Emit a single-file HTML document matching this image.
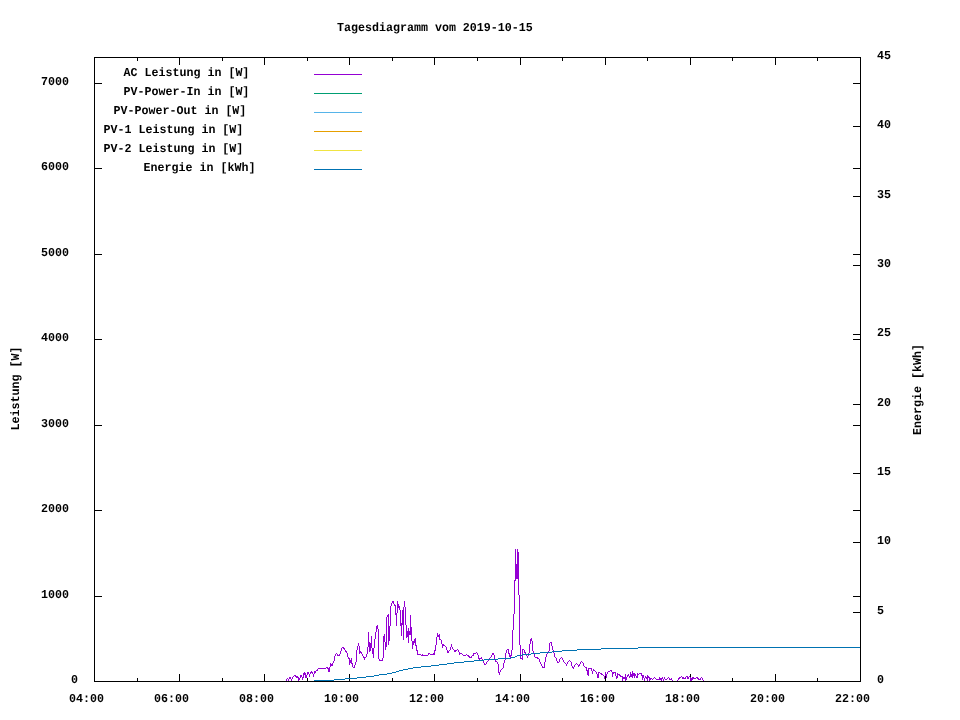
<!DOCTYPE html>
<html lang="de"><head><meta charset="utf-8"><title>Tagesdiagramm vom 2019-10-15</title>
<style>
html,body{margin:0;padding:0;background:#fff;}
body{width:960px;height:720px;overflow:hidden;}
svg{display:block;}
</style></head><body>
<svg width="960" height="720" viewBox="0 0 960 720">
<rect width="960" height="720" fill="#fff"/>
<g stroke="#000" stroke-width="1" fill="none" shape-rendering="crispEdges">
<path d="M137.5 682 v-4 M137.5 57 v4"/>
<path d="M179.5 682 v-8 M179.5 57 v8"/>
<path d="M222.5 682 v-4 M222.5 57 v4"/>
<path d="M264.5 682 v-8 M264.5 57 v8"/>
<path d="M307.5 682 v-4 M307.5 57 v4"/>
<path d="M349.5 682 v-8 M349.5 57 v8"/>
<path d="M392.5 682 v-4 M392.5 57 v4"/>
<path d="M434.5 682 v-8 M434.5 57 v8"/>
<path d="M477.5 682 v-4 M477.5 57 v4"/>
<path d="M520.5 682 v-8 M520.5 57 v8"/>
<path d="M562.5 682 v-4 M562.5 57 v4"/>
<path d="M605.5 682 v-8 M605.5 57 v8"/>
<path d="M647.5 682 v-4 M647.5 57 v4"/>
<path d="M690.5 682 v-8 M690.5 57 v8"/>
<path d="M732.5 682 v-4 M732.5 57 v4"/>
<path d="M775.5 682 v-8 M775.5 57 v8"/>
<path d="M817.5 682 v-4 M817.5 57 v4"/>
<path d="M94 596.5 h8 M861 596.5 h-8"/>
<path d="M94 510.5 h8 M861 510.5 h-8"/>
<path d="M94 425.5 h8 M861 425.5 h-8"/>
<path d="M94 339.5 h8 M861 339.5 h-8"/>
<path d="M94 254.5 h8 M861 254.5 h-8"/>
<path d="M94 168.5 h8 M861 168.5 h-8"/>
<path d="M94 83.5 h8 M861 83.5 h-8"/>
<path d="M861 612.5 h-8"/>
<path d="M861 542.5 h-8"/>
<path d="M861 473.5 h-8"/>
<path d="M861 404.5 h-8"/>
<path d="M861 334.5 h-8"/>
<path d="M861 265.5 h-8"/>
<path d="M861 196.5 h-8"/>
<path d="M861 126.5 h-8"/>
</g>
<g stroke-width="1" fill="none" shape-rendering="crispEdges">
<path stroke="#9400d3" d="M314 74.5 H362"/>
<path stroke="#009e73" d="M314 93.5 H362"/>
<path stroke="#56b4e9" d="M314 112.5 H362"/>
<path stroke="#e69f00" d="M314 131.5 H362"/>
<path stroke="#f0e442" d="M314 150.5 H362"/>
<path stroke="#0072b2" d="M314 169.5 H362"/>
</g>
<g stroke-width="1" fill="none" shape-rendering="crispEdges">
<path stroke="#9400d3" d="M286.5 679V681M287.5 678V679M288.5 679V681M289.5 677V679M290.5 677V679M291.5 679V681M292.5 677V679M293.5 676V677M294.5 675V676M295.5 675V677M296.5 676V678M297.5 676V678M298.5 677V681M299.5 678V680M300.5 675V678M301.5 675V677M302.5 677V680M303.5 673V678M304.5 672V675M305.5 673V678M306.5 675V678M307.5 672V675M308.5 672V674M309.5 674V677M310.5 672V674M311.5 671V673M312.5 672V674M313.5 674V677M314.5 671V674M315.5 671V673M316.5 670V671M317.5 669V671M318.5 668V669M319.5 668V669M320.5 668V669M321.5 668V669M322.5 668V669M323.5 668V669M324.5 668V669M325.5 668V669M326.5 667V668M327.5 667V669M328.5 668V672M329.5 667V672M330.5 663V667M331.5 664V666M332.5 663V666M333.5 661V663M334.5 656V661M335.5 654V656M336.5 653V654M337.5 654V656M338.5 655V656M339.5 654V656M340.5 651V654M341.5 648V651M342.5 647V648M343.5 647V649M344.5 648V650M345.5 650V652M346.5 651V653M347.5 653V657M348.5 657V659M349.5 658V665M350.5 660V663M351.5 658V664M352.5 663V667M353.5 667V668M354.5 665V668M355.5 662V665M356.5 650V662M357.5 646V650M358.5 643V646M359.5 646V654M360.5 651V653M361.5 652V654M362.5 654V656M363.5 656V658M364.5 657V660M365.5 657V658M366.5 654V657M367.5 647V654M368.5 632V647M369.5 642V652M370.5 643V651M371.5 636V648M372.5 648V654M373.5 648V658M374.5 639V648M375.5 632V639M376.5 626V632M377.5 625V629M378.5 629V659M379.5 659V661M380.5 660V661M381.5 660V661M382.5 658V661M383.5 636V658M384.5 634V642M385.5 642V650M386.5 617V647M387.5 615V617M388.5 614V645M389.5 626V641M390.5 606V626M391.5 603V606M392.5 601V603M393.5 601V604M394.5 604V606M395.5 605V615M396.5 613V626M397.5 601V613M398.5 604V608M399.5 606V610M400.5 610V626M401.5 623V636M402.5 610V625M403.5 607V640M404.5 601V607M405.5 607V625M406.5 625V638M407.5 631V637M408.5 628V643M409.5 631V635M410.5 615V635M411.5 627V641M412.5 641V649M413.5 641V645M414.5 639V643M415.5 638V646M416.5 645V651M417.5 650V655M418.5 654V655M419.5 654V655M420.5 654V655M421.5 655V656M422.5 654V656M423.5 655V656M424.5 655V656M425.5 655V656M426.5 655V656M427.5 655V656M428.5 653V655M429.5 653V654M430.5 654V655M431.5 654V655M432.5 654V655M433.5 653V655M434.5 650V655M435.5 645V651M436.5 637V645M437.5 633V637M438.5 635V637M439.5 634V640M440.5 639V640M441.5 640V644M442.5 644V648M443.5 644V646M444.5 645V646M445.5 646V647M446.5 647V650M447.5 650V653M448.5 651V653M449.5 650V651M450.5 647V650M451.5 644V647M452.5 647V649M453.5 649V650M454.5 650V652M455.5 650V652M456.5 650V651M457.5 649V650M458.5 650V652M459.5 652V655M460.5 653V654M461.5 653V654M462.5 654V655M463.5 655V656M464.5 655V656M465.5 655V656M466.5 654V655M467.5 655V656M468.5 655V657M469.5 656V658M470.5 657V658M471.5 656V658M472.5 655V656M473.5 653V656M474.5 653V654M475.5 653V654M476.5 652V653M477.5 653V655M478.5 655V659M479.5 658V660M480.5 658V659M481.5 657V659M482.5 659V661M483.5 660V663M484.5 663V665M485.5 664V665M486.5 662V664M487.5 661V662M488.5 660V661M489.5 658V660M490.5 657V658M491.5 655V657M492.5 653V655M493.5 653V655M494.5 655V659M495.5 659V662M496.5 661V662M497.5 662V664M498.5 664V673M499.5 672V675M500.5 670V672M501.5 669V670M502.5 668V669M503.5 663V668M504.5 660V663M505.5 653V660M506.5 650V653M507.5 649V650M508.5 649V654M509.5 653V657M510.5 655V658M511.5 650V656M512.5 630V650M513.5 614V630M514.5 580V614M515.5 549V581M516.5 564V579M517.5 549V579M518.5 552V595M519.5 595V645M520.5 645V659M521.5 658V659M522.5 649V660M523.5 649V650M524.5 650V653M525.5 652V655M526.5 654V656M527.5 656V658M528.5 653V656M529.5 644V653M530.5 639V644M531.5 638V641M532.5 641V651M533.5 651V653M534.5 653V657M535.5 657V658M536.5 657V658M537.5 657V659M538.5 658V659M539.5 659V662M540.5 662V664M541.5 664V666M542.5 666V668M543.5 667V668M544.5 662V668M545.5 657V662M546.5 654V657M547.5 652V654M548.5 651V653M549.5 643V651M550.5 642V643M551.5 642V646M552.5 646V650M553.5 650V653M554.5 653V657M555.5 657V658M556.5 658V661M557.5 661V663M558.5 662V663M559.5 659V662M560.5 658V659M561.5 657V658M562.5 658V660M563.5 660V662M564.5 662V663M565.5 663V664M566.5 664V666M567.5 662V664M568.5 661V662M569.5 660V661M570.5 661V662M571.5 662V666M572.5 666V668M573.5 667V669M574.5 665V667M575.5 664V665M576.5 663V664M577.5 664V665M578.5 665V667M579.5 664V666M580.5 662V664M581.5 661V662M582.5 662V663M583.5 663V666M584.5 666V667M585.5 667V668M586.5 667V671M587.5 670V675M588.5 668V676M589.5 668V669M590.5 668V669M591.5 668V671M592.5 671V674M593.5 669V671M594.5 670V671M595.5 671V672M596.5 672V674M597.5 674V678M598.5 672V678M599.5 672V673M600.5 673V674M601.5 673V675M602.5 674V675M603.5 675V676M604.5 676V679M605.5 672V676M606.5 674V678M607.5 672V674M608.5 671V672M609.5 671V672M610.5 670V671M611.5 670V672M612.5 672V677M613.5 672V674M614.5 672V673M615.5 672V676M616.5 676V679M617.5 673V678M618.5 674V675M619.5 674V676M620.5 675V677M621.5 676V677M622.5 676V681M623.5 677V679M624.5 677V679M625.5 674V681M626.5 677V680M627.5 675V677M628.5 674V676M629.5 676V678M630.5 672V677M631.5 674V677M632.5 671V678M633.5 673V676M634.5 673V678M635.5 674V676M636.5 676V678M637.5 673V678M638.5 674V675M639.5 673V674M640.5 673V674M641.5 673V676M642.5 675V680M643.5 675V678M644.5 678V681M645.5 676V678M646.5 677V679M647.5 675V681M648.5 676V678M649.5 677V681M650.5 678V680M651.5 678V679M652.5 679V680M653.5 678V679M654.5 677V678M655.5 678V679M656.5 679V680M657.5 679V680M658.5 679V680M659.5 677V680M660.5 678V680M661.5 678V681M662.5 677V679M663.5 679V681M664.5 677V679M665.5 679V680M666.5 679V680M667.5 678V679M668.5 677V678M669.5 678V680M670.5 679V680M671.5 678V680M672.5 680V681M677.5 680V681M678.5 678V680M679.5 677V679M680.5 677V678M681.5 676V677M682.5 677V679M683.5 677V679M684.5 678V679M685.5 677V679M686.5 676V677M687.5 676V679M688.5 677V679M689.5 676V677M690.5 677V681M691.5 678V681M692.5 677V680M693.5 677V679M694.5 678V679M695.5 678V679M696.5 677V678M697.5 677V679M698.5 678V680M699.5 679V680M700.5 678V680M701.5 677V678M702.5 678V680M703.5 680V681"/>
<path stroke="#0072b2" d="M314 680.5H334M334 679.5H345M345 678.5H357M357 677.5H366M366 676.5H374M374 675.5H379M379 674.5H387M387 673.5H392M392 672.5H396M396 671.5H399M399 670.5H403M403 669.5H408M408 668.5H413M413 667.5H421M421 666.5H431M431 665.5H439M439 664.5H447M447 663.5H454M454 662.5H464M464 661.5H474M474 660.5H484M484 659.5H498M498 658.5H511M511 657.5H515M515 656.5H517M517 655.5H522M522 654.5H531M531 653.5H540M540 652.5H552M552 651.5H562M562 650.5H577M577 649.5H601M601 648.5H638M638 647.5H861"/>
</g>
<g stroke="#000" stroke-width="1" fill="none" shape-rendering="crispEdges"><rect x="94.5" y="57.5" width="766" height="624"/></g>
<g font-family="'Liberation Mono', monospace" font-weight="bold" text-rendering="geometricPrecision" font-size="12.14px" fill="#000">
<text transform="translate(337,31) scale(0.961,1)" text-anchor="start">Tagesdiagramm vom 2019-10-15</text>
<text transform="translate(123.5,76) scale(0.961,1)" text-anchor="start">AC Leistung in [W]</text>
<text transform="translate(123.5,95) scale(0.961,1)" text-anchor="start">PV-Power-In in [W]</text>
<text transform="translate(113.5,114) scale(0.961,1)" text-anchor="start">PV-Power-Out in [W]</text>
<text transform="translate(103.5,133) scale(0.961,1)" text-anchor="start">PV-1 Leistung in [W]</text>
<text transform="translate(103.5,152) scale(0.961,1)" text-anchor="start">PV-2 Leistung in [W]</text>
<text transform="translate(143.5,171) scale(0.961,1)" text-anchor="start">Energie in [kWh]</text>
<text transform="translate(71,683) scale(0.961,1)" text-anchor="start">0</text>
<text transform="translate(41,598) scale(0.961,1)" text-anchor="start">1000</text>
<text transform="translate(41,512) scale(0.961,1)" text-anchor="start">2000</text>
<text transform="translate(41,427) scale(0.961,1)" text-anchor="start">3000</text>
<text transform="translate(41,341) scale(0.961,1)" text-anchor="start">4000</text>
<text transform="translate(41,256) scale(0.961,1)" text-anchor="start">5000</text>
<text transform="translate(41,170) scale(0.961,1)" text-anchor="start">6000</text>
<text transform="translate(41,85) scale(0.961,1)" text-anchor="start">7000</text>
<text transform="translate(877,683) scale(0.961,1)" text-anchor="start">0</text>
<text transform="translate(877,614) scale(0.961,1)" text-anchor="start">5</text>
<text transform="translate(877,544) scale(0.961,1)" text-anchor="start">10</text>
<text transform="translate(877,475) scale(0.961,1)" text-anchor="start">15</text>
<text transform="translate(877,406) scale(0.961,1)" text-anchor="start">20</text>
<text transform="translate(877,336) scale(0.961,1)" text-anchor="start">25</text>
<text transform="translate(877,267) scale(0.961,1)" text-anchor="start">30</text>
<text transform="translate(877,198) scale(0.961,1)" text-anchor="start">35</text>
<text transform="translate(877,128) scale(0.961,1)" text-anchor="start">40</text>
<text transform="translate(877,59) scale(0.961,1)" text-anchor="start">45</text>
<text transform="translate(69,702) scale(0.961,1)" text-anchor="start">04:00</text>
<text transform="translate(154,702) scale(0.961,1)" text-anchor="start">06:00</text>
<text transform="translate(239,702) scale(0.961,1)" text-anchor="start">08:00</text>
<text transform="translate(324,702) scale(0.961,1)" text-anchor="start">10:00</text>
<text transform="translate(409,702) scale(0.961,1)" text-anchor="start">12:00</text>
<text transform="translate(495,702) scale(0.961,1)" text-anchor="start">14:00</text>
<text transform="translate(580,702) scale(0.961,1)" text-anchor="start">16:00</text>
<text transform="translate(665,702) scale(0.961,1)" text-anchor="start">18:00</text>
<text transform="translate(750,702) scale(0.961,1)" text-anchor="start">20:00</text>
<text transform="translate(835,702) scale(0.961,1)" text-anchor="start">22:00</text>
<text transform="translate(19,388.5) rotate(-90) scale(0.961,1)" text-anchor="middle">Leistung [W]</text>
<text transform="translate(921,389.5) rotate(-90) scale(0.961,1)" text-anchor="middle">Energie [kWh]</text>
</g>
</svg>
</body></html>
